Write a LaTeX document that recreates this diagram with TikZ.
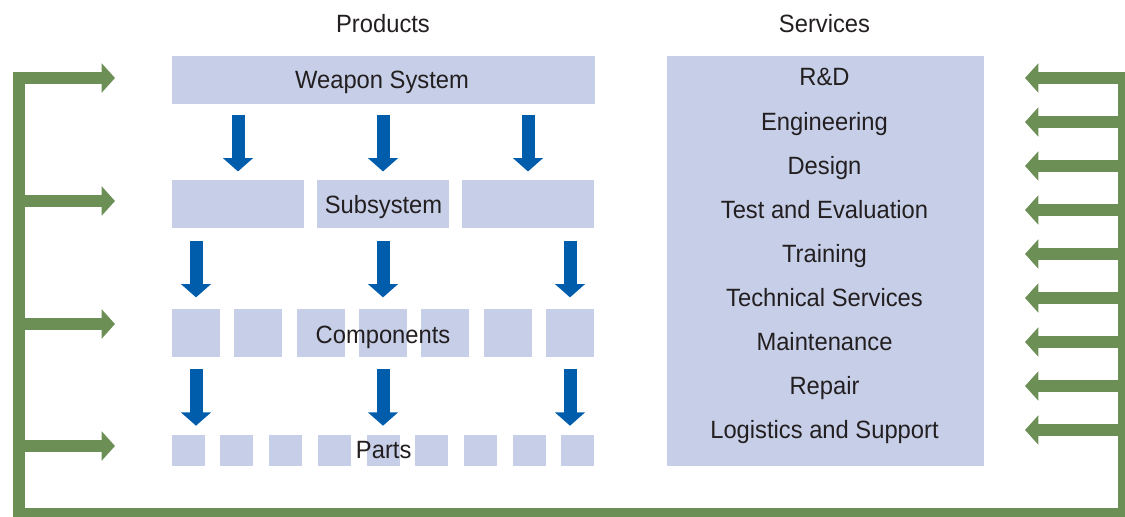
\documentclass[tikz,border=0pt]{standalone}
\usepackage{fontspec}
\setmainfont{Liberation Sans}[FakeStretch=0.95]
\usetikzlibrary{arrows.meta}
\definecolor{boxc}{HTML}{C7CFE8}
\definecolor{bluec}{HTML}{005DAC}
\definecolor{greenc}{HTML}{6B8F55}
\definecolor{textc}{HTML}{231F20}
\newcommand\px{0.75pt}
\newcommand\mkbox[5]{\node[box, minimum width={(#4-#2)*0.75pt}, minimum height={(#5-#3)*0.75pt}] (#1) at ({(#2+#4)/2},{(#3+#5)/2}) {};}
\begin{document}
\begin{tikzpicture}[x=0.75pt,y=-0.75pt,
  box/.style={fill=boxc, draw=none, inner sep=0pt},
  lbl/.style={anchor=base, inner sep=0pt, text=textc, font=\fontsize{18.75pt}{22pt}\selectfont},
  barrow/.style={draw=bluec, line width=9.75pt, -{Triangle[width=22pt,length=10pt]}},
  garrow/.style={draw=greenc, line width=9.4pt, line join=miter, -{Triangle[width=21.5pt,length=10pt]}}]
\useasboundingbox (0,0) rectangle (1125,517);
% boxes
\mkbox{ws}{172}{56}{595}{104}
\mkbox{s1}{172}{180}{304}{228}
\mkbox{s2}{317}{180}{449}{228}
\mkbox{s3}{462}{180}{594}{228}
\foreach \i/\x in {1/172,2/234,3/297,4/359,5/421,6/484,7/546}{
  \mkbox{c\i}{\x}{309}{\x+48}{357}
}
\foreach \i/\x in {1/172,2/220,3/269,4/318,5/367,6/415,7/464,8/513,9/561}{
  \mkbox{p\i}{\x}{435}{\x+33}{466}
}
\mkbox{sv}{667}{56}{984}{466}
% labels
\node[lbl] (tprod) at (383,33) {Products};
\node[lbl] (tserv) at (824.5,33) {Services};
\node[lbl] (tws) at (382,88.3) {Weapon System};
\node[lbl] (tss) at (383.5,213.3) {Subsystem};
\node[lbl] (tcp) at (383,343.3) {Components};
\node[lbl] (tpt) at (383.7,458.3) {Parts};
\foreach \t [count=\k from 0] in {R\&D,Engineering,Design,Test and Evaluation,Training,Technical Services,Maintenance,Repair,Logistics and Support}{
  \node[lbl] (sv\k) at (824.5,{86+44*\k}) {\t};
}
% blue arrows
\foreach \s in {s1,s2,s3}{
  \draw[barrow, shorten <=7.9pt, shorten >=6.2pt] (ws.south -| \s.north) -- (\s.north);
}
\draw[barrow, shorten <=9.5pt, shorten >=8.5pt] (s1.south -| c1.north) -- (c1.north);
\draw[barrow, shorten <=9.5pt, shorten >=8.5pt] (s2.south -| c4.north) -- (c4.north);
\draw[barrow, shorten <=9.5pt, shorten >=8.5pt] (s3.south -| c7.north) -- (c7.north);
\draw[barrow, shorten <=8.8pt, shorten >=6.75pt] (c1.south) -- (p1.north -| c1.south);
\draw[barrow, shorten <=8.8pt, shorten >=6.75pt] (c4.south) -- (p1.north -| c4.south);
\draw[barrow, shorten <=8.8pt, shorten >=6.75pt] (c7.south) -- (p1.north -| c7.south);
% green frame and arrows
\coordinate (LT) at (19,78);
\coordinate (LB) at (19,514);
\coordinate (RB) at (1124.5,514);
\coordinate (RT) at (1124.5,78);
\coordinate (l1) at (115,78);
\coordinate (l2) at (115,201);
\coordinate (l3) at (115,324);
\coordinate (l4) at (115,446);
\coordinate (r0) at (1025,78);
\draw[garrow, {Triangle[width=21.5pt,length=10pt]}-{Triangle[width=21.5pt,length=10pt]}] (l1) -- (LT) -- (LB) -- (RB) -- (RT) -- (r0);
\foreach \l in {l2,l3,l4}{
  \draw[garrow] (\l -| LT) -- (\l);
}
\foreach \k in {1,...,8}{
  \coordinate (r\k) at (1025,{78+44*\k});
  \draw[garrow] (r\k -| RT) -- (r\k);
}
\end{tikzpicture}
\end{document}
